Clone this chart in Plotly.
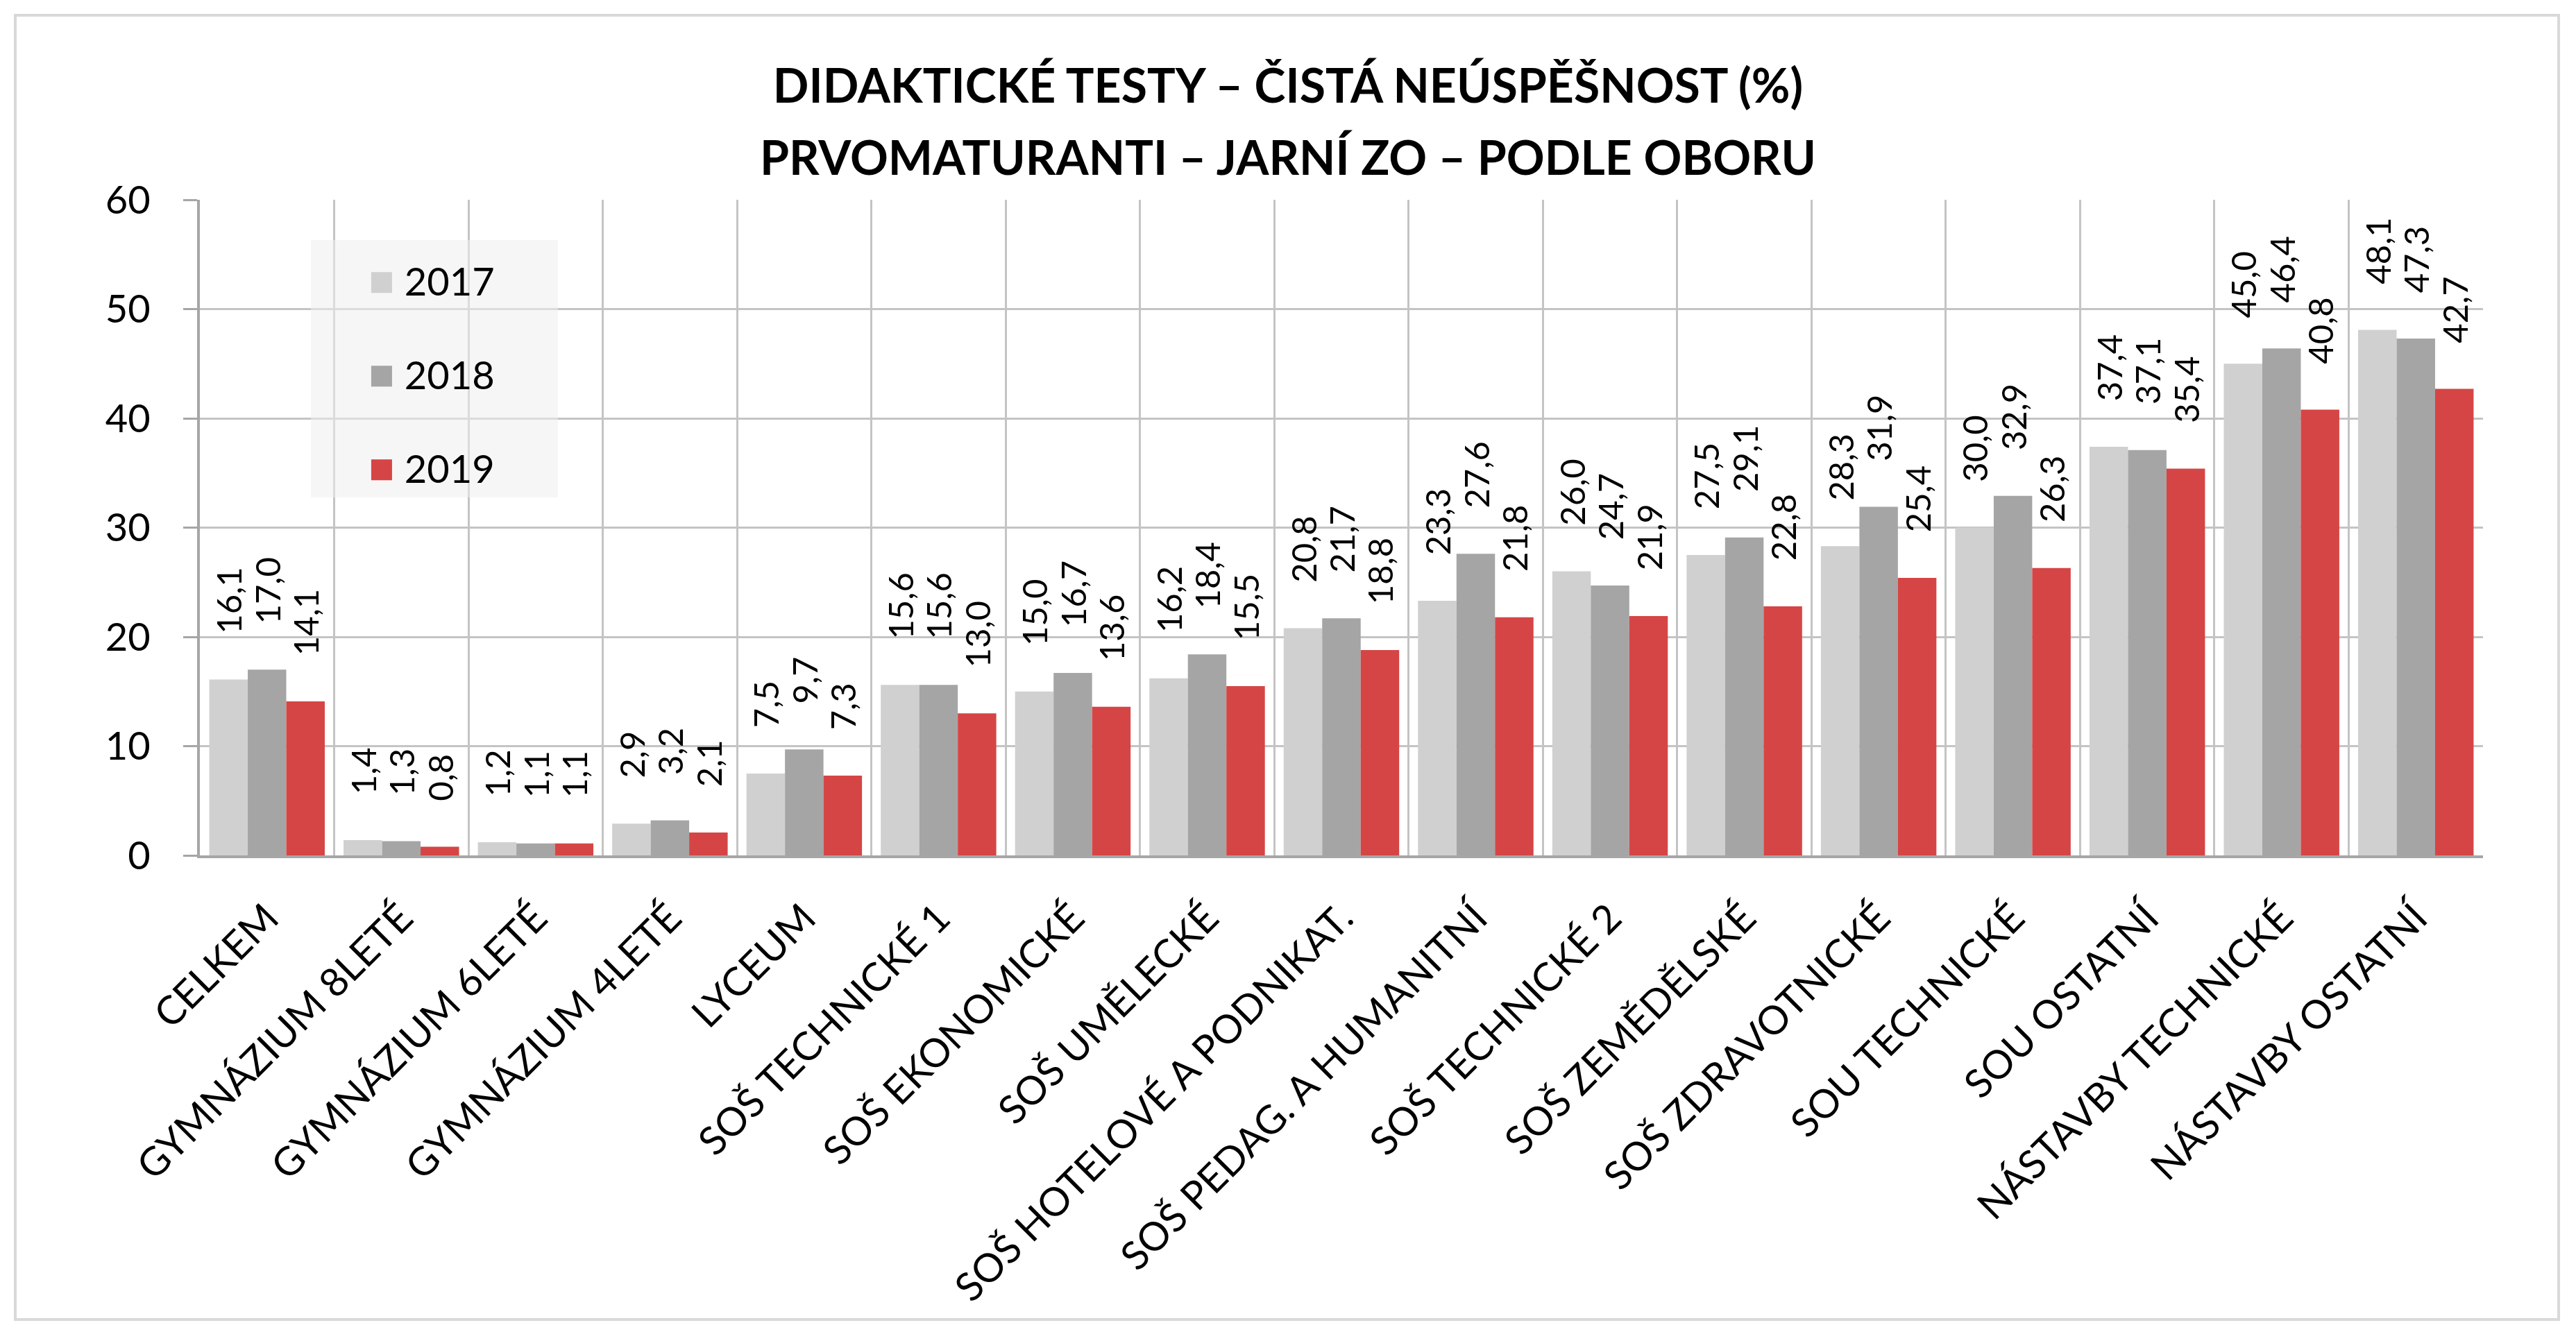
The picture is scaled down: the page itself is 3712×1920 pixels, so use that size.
import plotly.graph_objects as go

categories = [
    "CELKEM", "GYMNÁZIUM 8LETÉ", "GYMNÁZIUM 6LETÉ", "GYMNÁZIUM 4LETÉ", "LYCEUM",
    "SOŠ TECHNICKÉ 1", "SOŠ EKONOMICKÉ", "SOŠ UMĚLECKÉ", "SOŠ HOTELOVÉ A PODNIKAT.",
    "SOŠ PEDAG. A HUMANITNÍ", "SOŠ TECHNICKÉ 2", "SOŠ ZEMĚDĚLSKÉ", "SOŠ ZDRAVOTNICKÉ",
    "SOU TECHNICKÉ", "SOU OSTATNÍ", "NÁSTAVBY TECHNICKÉ", "NÁSTAVBY OSTATNÍ",
]
v2017 = [16.1, 1.4, 1.2, 2.9, 7.5, 15.6, 15.0, 16.2, 20.8, 23.3, 26.0, 27.5, 28.3, 30.0, 37.4, 45.0, 48.1]
v2018 = [17.0, 1.3, 1.1, 3.2, 9.7, 15.6, 16.7, 18.4, 21.7, 27.6, 24.7, 29.1, 31.9, 32.9, 37.1, 46.4, 47.3]
v2019 = [14.1, 0.8, 1.1, 2.1, 7.3, 13.0, 13.6, 15.5, 18.8, 21.8, 21.9, 22.8, 25.4, 26.3, 35.4, 40.8, 42.7]
series_names = ["2017", "2018", "2019"]
colors = ["#D0D0D0", "#A5A5A5", "#D64545"]

title1 = "DIDAKTICKÉ TESTY – ČISTÁ NEÚSPĚŠNOST (%)"
title2 = "PRVOMATURANTI – JARNÍ ZO – PODLE OBORU"

W, H = 3712, 1920
L, R, T, B = 288, 3578, 288, 1233

FONT = "Lato, 'Open Sans', sans-serif"
TFONT = "Lato, sans-serif"

fig = go.Figure()
pad = "\u00a0" * 5
for name, vals, col in zip(series_names, [v2017, v2018, v2019], colors):
    fig.add_trace(go.Bar(
        x=categories, y=vals, name=name, marker=dict(color=col, line=dict(width=0)),
        texttemplate=pad + "%{y:.1f}", textposition="outside", textangle=-90,
        outsidetextfont=dict(family=FONT, size=49, color="#000000"),
        constraintext="none", cliponaxis=False, showlegend=False,
    ))

# legend entries
for i, (name, col) in enumerate(zip(series_names, colors)):
    fig.add_trace(go.Scatter(
        x=[None], y=[None], mode="markers",
        marker=dict(color="rgba(0,0,0,0)", size=1),
        name="\u00a0\u00a0\u00a0<span style='color:%s;font-size:62px'>■</span>\u00a0%s\u00a0\u00a0\u00a0\u00a0\u00a0\u00a0" % (col, name),
        legendgroup="g%d" % i, showlegend=True, hoverinfo="skip",
    ))

def px_x(px):
    return (px - L) / (R - L)

def px_y(py):
    return (B - py) / (B - T)

fig.update_layout(
    width=W, height=H,
    margin=dict(l=L, r=W - R, t=T, b=H - B, pad=0),
    paper_bgcolor="white", plot_bgcolor="white",
    separators=", ",
    barmode="group", bargap=0.14, bargroupgap=0.0,
    font=dict(family=FONT, color="#000000"),
    title=dict(
        text=title1, x=0.5, xref="container", xanchor="center",
        y=1 - 124 / H, yref="container", yanchor="middle",
        font=dict(family=TFONT, size=68, color="#000000", weight="bold"),
    ),
    legend=dict(
        x=px_x(448), y=px_y(346), xanchor="left", yanchor="top",
        bgcolor="rgba(238,238,238,0.55)", borderwidth=0,
        font=dict(family=FONT, size=56, color="#000000"),
        title=dict(text="\u00a0", font=dict(size=12)),
        itemwidth=30, tracegroupgap=59, traceorder="grouped",
        itemclick=False,
    ),
    xaxis=dict(
        type="category", tickangle=-45, tickson="boundaries",
        showgrid=True, gridcolor="#C4C4C4", gridwidth=3,
        showline=True, linecolor="#A6A6A6", linewidth=4,
        ticks="", tickfont=dict(family=FONT, size=57, color="#000000"),
        ticklabelstandoff=30,
    ),
    yaxis=dict(
        range=[0, 60], dtick=10, tick0=0,
        showgrid=True, gridcolor="#C4C4C4", gridwidth=3,
        showline=True, linecolor="#A6A6A6", linewidth=4,
        ticks="outside", ticklen=20, tickwidth=3, tickcolor="#A6A6A6",
        tickfont=dict(family=FONT, size=56, color="#000000"),
        ticklabelstandoff=36, zeroline=False,
    ),
    annotations=[dict(
        text=title2, xref="paper", yref="paper",
        x=px_x(W / 2), y=px_y(225), xanchor="center", yanchor="middle",
        showarrow=False,
        font=dict(family=TFONT, size=68, color="#000000", weight="bold"),
    )],
    shapes=[dict(
        type="rect", xref="paper", yref="paper",
        x0=px_x(22), x1=px_x(3687), y0=px_y(1902), y1=px_y(22),
        line=dict(color="#D9D9D9", width=4), fillcolor="rgba(0,0,0,0)", layer="below",
    )],
)

fig.write_html("out.html")
